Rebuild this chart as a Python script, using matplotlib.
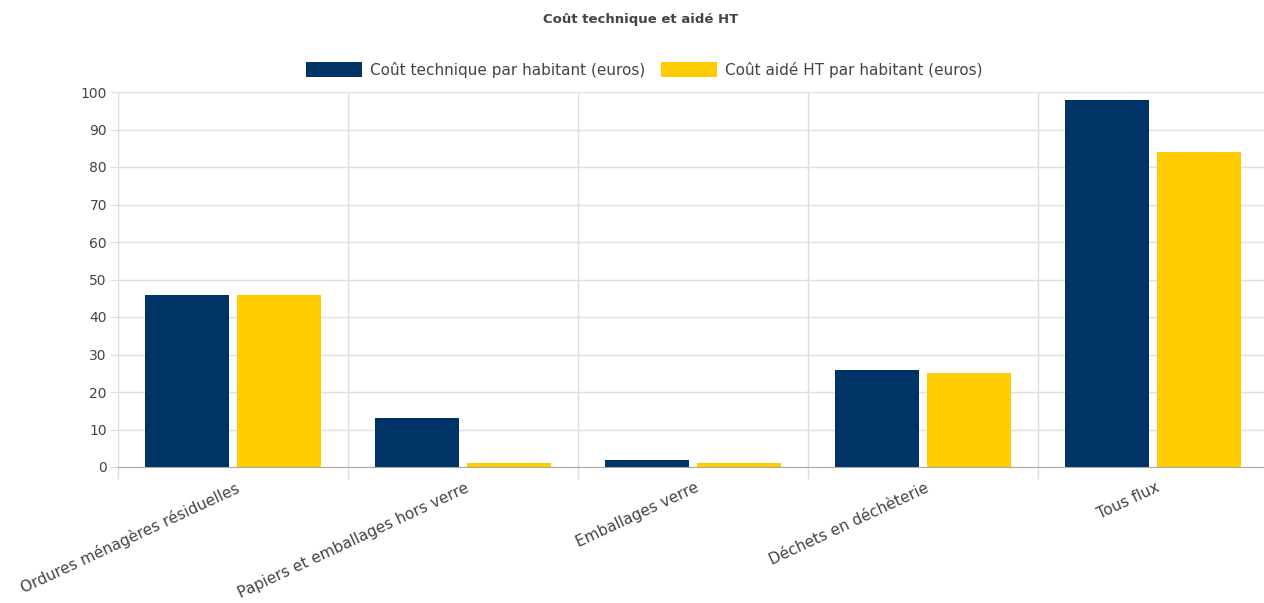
import matplotlib
matplotlib.use("Agg")
import matplotlib.pyplot as plt
import numpy as np

categories = ["Ordures ménagères résiduelles", "Papiers et emballages hors verre",
              "Emballages verre", "Déchets en déchèterie", "Tous flux"]
cout_technique = [46, 13, 2, 26, 98]
cout_aide = [46, 1, 1, 25, 84]
series_names = ["Coût technique par habitant (euros)", "Coût aidé HT par habitant (euros)"]
yticks = list(range(0, 101, 10))

plt.rcParams['font.family'] = ['DejaVu Sans']

fig = plt.figure(figsize=(12.64, 6.03), dpi=100)
ax = fig.add_axes([118/1264, 1-467/603, 1150/1264, 375/603])

x = np.arange(len(categories))
w = 0.361
gap = 0.039
ax.bar(x - (w + gap)/2, cout_technique, width=w, color="#003366", label=series_names[0], zorder=3)
ax.bar(x + (w + gap)/2, cout_aide, width=w, color="#FFCC00", label=series_names[1], zorder=3)

ax.set_xlim(-0.5, len(categories) - 0.5)
ax.set_ylim(0, 100)
ax.set_yticks(yticks)
ax.set_yticklabels([str(t) for t in yticks], fontsize=10, color="#444444")
ax.tick_params(axis='y', length=6, color="#dddddd", pad=2)

bounds = np.arange(len(categories) + 1) - 0.5
for b in bounds:
    ax.axvline(b, color="#dddddd", lw=1, zorder=0)
    ax.plot([b, b], [0, -3], color="#dddddd", lw=1, clip_on=False, zorder=0)
ax.yaxis.grid(True, color="#e0e0e0", lw=1, zorder=0)

ax.set_xticks(x)
ax.set_xticklabels([])
ax.tick_params(axis='x', length=0)
for xi, lab in zip(x, categories):
    ax.text(xi + 0.01, -3.5, lab, rotation=25, ha='right', va='top', rotation_mode='anchor',
            fontsize=11, color="#444444", transform=ax.transData, clip_on=False)

for s in ['top', 'right', 'left']:
    ax.spines[s].set_visible(False)
ax.spines['bottom'].set_color("#aaaaaa")
ax.spines['bottom'].set_zorder(4)

fig.text(641/1264, 1-20/603, "Coût technique et aidé HT", ha='center', va='center',
         fontsize=9.5, fontweight='bold', color="#444444")

leg = fig.legend(loc='center', bbox_to_anchor=(644/1264, 1-70/603), ncol=2, frameon=False,
                 fontsize=11, handlelength=3.7, handleheight=1.1, columnspacing=1.0,
                 handletextpad=0.5, labelcolor="#444444")

fig.savefig("out.png", dpi=100)
